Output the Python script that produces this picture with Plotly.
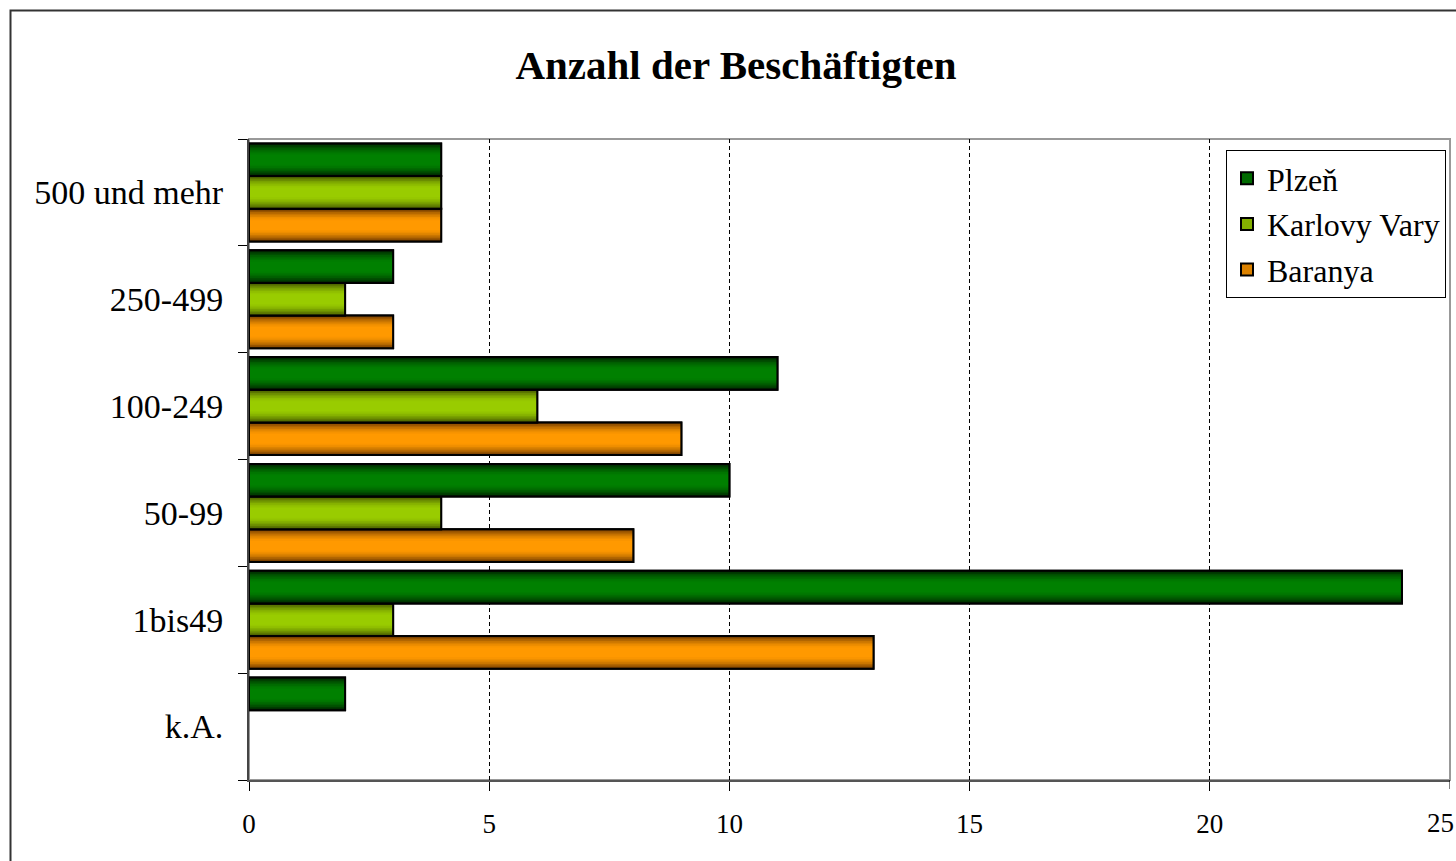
import plotly.graph_objects as go

# ---- data ----
categories = ["k.A.", "1bis49", "50-99", "100-249", "250-499", "500 und mehr"]
plzen = [2, 24, 10, 11, 3, 4]
karlovy_vary = [None, 3, 4, 6, 2, 4]
baranya = [None, 13, 8, 9, 3, 4]
series_names = ["Plzeň", "Karlovy Vary", "Baranya"]
x_ticks = [0, 5, 10, 15, 20, 25]

# ---- style ----
W_PX, H_PX = 1456, 861
L, R, T, B = 249, 6, 139, 81
PW, PH = W_PX - L - R, H_PX - T - B

dark = {"Plzeň": (0, 38, 0), "Karlovy Vary": (70, 90, 0), "Baranya": (115, 60, 0)}
bright = {"Plzeň": (0, 128, 0), "Karlovy Vary": (153, 204, 0), "Baranya": (255, 153, 0)}

def mix(a, b, t):
    return "rgb(%d,%d,%d)" % tuple(round(a[i] + (b[i] - a[i]) * t) for i in range(3))

fracs = [1.0, 0.9, 0.8, 0.7, 0.6, 0.5, 0.4, 0.3]
ts = [0.0, 0.25, 0.45, 0.62, 0.76, 0.88, 0.96, 1.0]

BW = 0.306
start0 = -1.5 * BW

fig = go.Figure()
# bottom to top within group: Baranya, Karlovy Vary, Plzeň
order = [("Baranya", baranya), ("Karlovy Vary", karlovy_vary), ("Plzeň", plzen)]
ranks = {"Plzeň": 1, "Karlovy Vary": 2, "Baranya": 3}
for k, (name, vals) in enumerate(order):
    start = start0 + k * BW
    # legend carrier (covered by gradient layers)
    fig.add_trace(go.Bar(
        y=categories, x=vals, orientation="h", name=name,
        width=BW, offset=start,
        marker=dict(color=mix(dark[name], bright[name], 0.75),
                    line=dict(color="black", width=2)),
        showlegend=True, legendgroup=name, legendrank=ranks[name],
        hoverinfo="skip",
    ))
    for f, t in zip(fracs, ts):
        w = BW * f
        off = start + (BW - w) / 2
        fig.add_trace(go.Bar(
            y=categories, x=vals, orientation="h", name=name,
            width=w, offset=off,
            marker=dict(color=mix(dark[name], bright[name], t), line=dict(width=0)),
            showlegend=False, legendgroup=name, hoverinfo="skip",
        ))
    # outline on top
    fig.add_trace(go.Bar(
        y=categories, x=vals, orientation="h", name=name,
        width=BW, offset=start,
        marker=dict(color="rgba(0,0,0,0)", line=dict(color="black", width=2)),
        showlegend=False, legendgroup=name, hoverinfo="skip",
    ))

font = "Liberation Serif, Times New Roman, serif"

fig.update_layout(
    width=W_PX, height=H_PX,
    margin=dict(l=L, r=R, t=T, b=B),
    paper_bgcolor="white", plot_bgcolor="white",
    barmode="overlay",
    font=dict(family=font, color="black"),
    title=dict(text="Anzahl der Beschäftigten", xref="paper", x=(736 - L) / PW,
               xanchor="center", yref="container", y=1 - 65 / H_PX, yanchor="middle",
               font=dict(family=font, size=41, weight="bold", color="black")),
    xaxis=dict(range=[0, 25], tickvals=x_ticks[:-1], ticktext=[str(v) for v in x_ticks[:-1]],
               showgrid=True, gridcolor="black", gridwidth=1, griddash="4px,3px",
               zeroline=False, ticks="outside", ticklen=9, tickcolor="black",
               tickwidth=1, showline=True, linecolor="#555", linewidth=2,
               tickfont=dict(size=27, family=font), ticklabelstandoff=10),
    yaxis=dict(categoryorder="array", categoryarray=categories, range=[-0.5, 5.5],
               tickson="boundaries", ticks="outside", ticklen=9, tickcolor="black",
               tickwidth=1, showline=True, linecolor="#444", linewidth=2,
               showgrid=False, zeroline=False,
               tickfont=dict(size=34, family=font), ticklabelstandoff=17),
    legend=dict(x=(1226 - L) / PW, y=(780 - 150) / PH, xanchor="left", yanchor="top",
                bgcolor="white", bordercolor="black", borderwidth=1,
                font=dict(size=32, family=font), tracegroupgap=1,
                itemwidth=30),
    shapes=[
        dict(type="rect", xref="paper", yref="paper", x0=0, x1=1, y0=0, y1=1,
             line=dict(color="#999", width=2), layer="below"),
        dict(type="rect", xref="paper", yref="paper",
             x0=(10.5 - L) / PW, x1=(1470 - L) / PW,
             y0=(780 - 890) / PH, y1=(780 - 10.5) / PH,
             line=dict(color="#333", width=2), layer="below"),
        dict(type="line", xref="x", x0=x_ticks[-1], x1=x_ticks[-1],
             yref="paper", y0=0, y1=-9 / PH, line=dict(color="black", width=1)),
    ],
    annotations=[
        dict(text=str(x_ticks[-1]), xref="x", x=x_ticks[-1], xshift=6,
             yref="paper", y=(780 - 823) / PH,
             xanchor="right", yanchor="middle", showarrow=False,
             font=dict(size=27, family=font, color="black")),
    ],
)

fig.write_html("out.html", config={"displayModeBar": False},
               post_script="document.body.style.margin='0px';")
